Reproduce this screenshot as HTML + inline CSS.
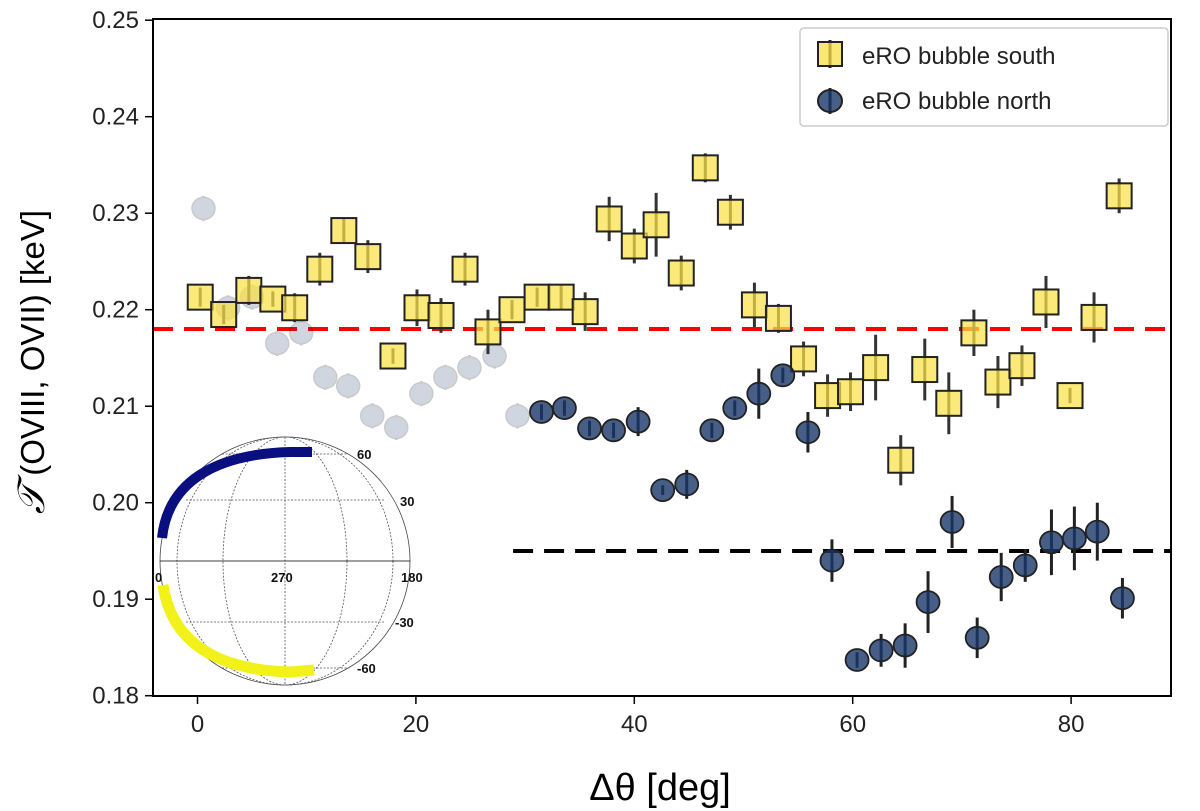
<!DOCTYPE html>
<html><head><meta charset="utf-8"><style>
html,body{margin:0;padding:0;background:#fff;}
svg{display:block;font-family:"Liberation Sans",sans-serif;}
</style></head><body>
<svg id="chart" width="1200" height="811" viewBox="0 0 1200 811" xmlns="http://www.w3.org/2000/svg">
<g id="inset" fill="none" stroke="#555" stroke-width="0.8" stroke-dasharray="2,1.5">
  <ellipse cx="285" cy="561" rx="125" ry="124" stroke-dasharray="none" stroke="#444"/>
  <ellipse cx="285" cy="561" rx="108" ry="124"/>
  <ellipse cx="285" cy="561" rx="62" ry="124"/>
  <line x1="285" y1="437" x2="285" y2="685"/>
  <line x1="186" y1="500" x2="384" y2="500"/>
  <line x1="222" y1="454" x2="348" y2="454"/>
  <line x1="186" y1="622" x2="384" y2="622"/>
  <line x1="222" y1="668" x2="348" y2="668"/>
  <line x1="160" y1="561" x2="410" y2="561" stroke="#000" stroke-dasharray="none"/>
  <path d="M162,538 C168,482 215,454 290,452 L312,452" stroke="#0a0f80" stroke-width="10" stroke-dasharray="none"/>
  <path d="M163,585 C172,645 220,670 290,672 L314,670" stroke="#f2f21a" stroke-width="11" stroke-dasharray="none"/>
  <g fill="#111" stroke="none" font-size="13" font-weight="bold">
    <text x="357" y="459">60</text>
    <text x="400" y="506">30</text>
    <text x="155" y="582">0</text>
    <text x="271" y="582">270</text>
    <text x="401" y="582">180</text>
    <text x="395" y="627">-30</text>
    <text x="357" y="673">-60</text>
  </g>
</g>
<g id="marks"></g>
<rect x="153" y="19" width="1018" height="677" fill="none" stroke="#000" stroke-width="2"/>
<g id="axes"></g>
<text x="660" y="800" font-size="38" text-anchor="middle">Δθ [deg]</text>
<text transform="translate(44,362) rotate(-90)" font-size="33" text-anchor="middle"><tspan font-family="'Liberation Serif',serif" font-style="italic" font-size="38">𝒯</tspan> (OVIII, OVII) [keV]</text>
<g>
  <rect x="800" y="28" width="368" height="98" rx="4" fill="#fff" stroke="#ccc" stroke-width="1.5"/>
  <line x1="830" y1="40" x2="830" y2="68" stroke="#222" stroke-width="3"/>
  <rect x="818" y="42" width="24" height="24" fill="rgba(249,224,70,0.75)" stroke="#222" stroke-width="2"/>
  <text x="862" y="64" font-size="24" fill="#222">eRO bubble south</text>
  <line x1="830" y1="88" x2="830" y2="114" stroke="#222" stroke-width="3"/>
  <ellipse cx="830" cy="101" rx="12" ry="11" fill="rgba(25,55,105,0.8)" stroke="#222" stroke-width="2"/>
  <text x="862" y="109" font-size="24" fill="#222">eRO bubble north</text>
</g>
</svg>
<script>
const southDeg=[0.25,2.4,4.7,6.9,8.9,11.2,13.4,15.6,17.9,20.1,22.3,24.5,26.6,28.8,31.1,33.3,35.5,37.7,40.0,42.0,44.3,46.5,48.8,51.0,53.2,55.5,57.7,59.8,62.1,64.4,66.6,68.8,71.1,73.3,75.5,77.7,79.9,82.1,84.4];
const southT=[0.2213,0.2195,0.2220,0.2211,0.2202,0.2242,0.2282,0.2255,0.2152,0.2202,0.2194,0.2242,0.2177,0.2200,0.2213,0.2213,0.2198,0.2294,0.2266,0.2288,0.2238,0.2347,0.2301,0.2205,0.2191,0.2149,0.2111,0.2115,0.2140,0.2044,0.2138,0.2103,0.2176,0.2125,0.2142,0.2208,0.2111,0.2192,0.2318];
const southErr=[0.0010,0.0010,0.0015,0.0008,0.0015,0.0017,0.0012,0.0017,0.0008,0.0019,0.0018,0.0017,0.0023,0.0010,0.0010,0.0013,0.0020,0.0023,0.0018,0.0033,0.0018,0.0015,0.0018,0.0023,0.0015,0.0018,0.0022,0.0020,0.0034,0.0026,0.0032,0.0032,0.0024,0.0027,0.0021,0.0027,0.0008,0.0026,0.0018];
const northFadedDeg=[0.55,2.8,5.0,7.3,9.5,11.7,13.8,16.0,18.2,20.5,22.7,24.9,27.2,29.3];
const northFadedT=[0.2305,0.2202,0.2213,0.2165,0.2176,0.2130,0.2121,0.2090,0.2078,0.2113,0.2130,0.2140,0.2152,0.2090];
const northDeg=[31.5,33.6,35.9,38.1,40.35,42.6,44.8,47.1,49.2,51.4,53.6,55.9,58.1,60.4,62.6,64.8,66.9,69.1,71.4,73.6,75.8,78.2,80.3,82.4,84.7];
const northT=[0.2094,0.2098,0.2077,0.2075,0.2084,0.2013,0.2019,0.2075,0.2098,0.2113,0.2132,0.2073,0.1940,0.1837,0.1847,0.1852,0.1897,0.1980,0.1860,0.1923,0.1935,0.1959,0.1963,0.1970,0.1901];
const northErr=[0.0008,0.0008,0.0008,0.0008,0.0015,0.0005,0.0015,0.0008,0.0008,0.0026,0.0008,0.0021,0.0022,0.0008,0.0017,0.0023,0.0032,0.0027,0.0021,0.0025,0.0017,0.0034,0.0033,0.0030,0.0021];
const xTicks=[0,20,40,60,80];
const yTicks=[0.18,0.19,0.20,0.21,0.22,0.23,0.24,0.25];
const refSouth=0.218, refNorth=0.195, refNorthStart=28.9;

const NS='http://www.w3.org/2000/svg';
function xs(d){return 197.5+d*10.92;}
function ys(v){return 502.7-(v-0.2)*9650;}
function mk(tag,attrs,parent){const e=document.createElementNS(NS,tag);for(const k in attrs)e.setAttribute(k,attrs[k]);parent.appendChild(e);return e;}
const marks=document.getElementById('marks');
const axes=document.getElementById('axes');

const rl=mk('line',{x1:153,x2:1171,y1:ys(refSouth),y2:ys(refSouth),stroke:'#f00','stroke-width':4,'stroke-dasharray':'20,11'},marks);


const bl=mk('line',{x1:xs(refNorthStart),x2:1171,y1:ys(refNorth),y2:ys(refNorth),stroke:'#000','stroke-width':4,'stroke-dasharray':'20,11'},marks);



northFadedDeg.forEach((d,i)=>{
  const g=mk('g',{opacity:0.22},marks);
  
  
  mk('line',{x1:xs(d),x2:xs(d),y1:ys(northFadedT[i]+0.0013),y2:ys(northFadedT[i]-0.0013),stroke:'#111','stroke-width':3},g);
  mk('ellipse',{cx:xs(d),cy:ys(northFadedT[i]),rx:11.5,ry:11,fill:'#2c4a78',stroke:'#111','stroke-width':1.5},g);
});
southDeg.forEach((d,i)=>{
  const g=mk('g',{},marks);
  
  
  const x=xs(d),y=ys(southT[i]);
  mk('line',{x1:x,x2:x,y1:ys(southT[i]+southErr[i]),y2:ys(southT[i]-southErr[i]),stroke:'#333','stroke-width':3},g);
  mk('rect',{x:x-12.5,y:y-12.5,width:25,height:25,fill:'rgba(249,224,70,0.72)',stroke:'#222','stroke-width':2},g);
});
northDeg.forEach((d,i)=>{
  const g=mk('g',{},marks);
  
  
  const x=xs(d),y=ys(northT[i]);
  mk('line',{x1:x,x2:x,y1:ys(northT[i]+northErr[i]),y2:ys(northT[i]-northErr[i]),stroke:'#222','stroke-width':3},g);
  mk('ellipse',{cx:x,cy:y,rx:11.5,ry:11,fill:'rgba(25,55,105,0.8)',stroke:'#222','stroke-width':1.8},g);
});
xTicks.forEach(t=>{
  const x=xs(t);
  mk('line',{x1:x,x2:x,y1:696,y2:704,stroke:'#000','stroke-width':1.5},axes);
  const tx=mk('text',{x:x,y:732,'font-size':24,'text-anchor':'middle',fill:'#222'},axes);
  tx.textContent=t;
  
  
});
yTicks.forEach(t=>{
  const y=ys(t);
  mk('line',{x1:145,x2:153,y1:y,y2:y,stroke:'#000','stroke-width':1.5},axes);
  const tx=mk('text',{x:139,y:y+8,'font-size':24,'text-anchor':'end',fill:'#222'},axes);
  tx.textContent=t.toFixed(2);
  
  
});
</script>
</body></html>
